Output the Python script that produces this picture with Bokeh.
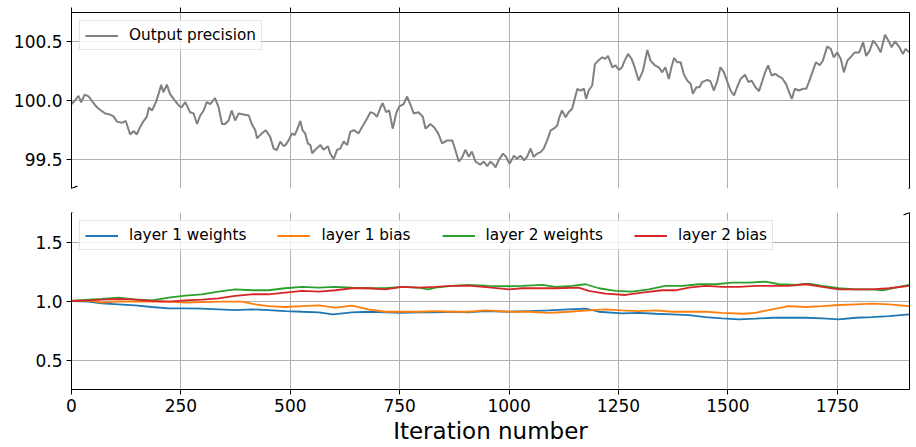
from bokeh.plotting import figure
from bokeh.models import (Range1d, FixedTicker, LinearAxis, Arrow, PrintfTickFormatter)
from bokeh.layouts import column
from bokeh.embed import file_html
from bokeh.resources import INLINE

# ---------------- data ----------------
prec_iter = [0, 8, 16, 22, 30, 39, 46, 54, 62, 69, 77, 88, 96, 104, 115, 124, 134, 142, 149, 157,
             164, 172, 177, 184, 193, 199, 205, 210, 218, 225, 235, 245, 251, 260, 271, 279, 287, 294,
             302, 309, 317, 328, 336, 344, 351, 359, 366, 374, 382, 393, 405, 412, 420, 424, 435, 444,
             454, 462, 469, 477, 485, 489, 496, 504, 510, 515, 523, 528, 534, 540, 546, 550, 557, 569,
             576, 586, 591, 599, 607, 614, 622, 630, 637, 645, 656, 664, 673, 683, 691, 698, 706, 711,
             719, 726, 734, 742, 749, 759, 767, 774, 782, 793, 803, 809, 820, 828, 838, 847, 858, 870,
             877, 885, 893, 900, 908, 915, 923, 934, 942, 950, 957, 965, 969, 976, 986, 993, 1001, 1011,
             1018, 1026, 1034, 1041, 1049, 1056, 1064, 1072, 1079, 1087, 1095, 1102, 1110, 1115, 1121,
             1129, 1136, 1144, 1150, 1156, 1163, 1171, 1176, 1182, 1190, 1196, 1204, 1213, 1220, 1226,
             1236, 1243, 1251, 1258, 1264, 1272, 1280, 1287, 1296, 1306, 1316, 1323, 1333, 1342, 1350,
             1357, 1365, 1371, 1377, 1384, 1392, 1399, 1407, 1415, 1420, 1428, 1435, 1441, 1453, 1460,
             1468, 1476, 1483, 1491, 1499, 1506, 1514, 1521, 1529, 1539, 1547, 1554, 1563, 1571, 1579,
             1585, 1592, 1600, 1608, 1617, 1624, 1633, 1640, 1646, 1653, 1662, 1672, 1679, 1685, 1693,
             1701, 1710, 1717, 1727, 1735, 1742, 1750, 1758, 1765, 1773, 1783, 1790, 1800, 1809, 1816,
             1824, 1832, 1841, 1849, 1859, 1867, 1874, 1882, 1891, 1900, 1906, 1914]
prec_vals = [99.97, 100.0, 100.04, 99.985, 100.05, 100.035, 100.0, 99.96, 99.93, 99.91, 99.89, 99.88,
             99.865, 99.82, 99.81, 99.825, 99.71, 99.74, 99.71, 99.775, 99.82, 99.86, 99.94, 99.915,
             99.986, 100.056, 100.135, 100.07, 100.135, 100.056, 100.006, 99.958, 99.94, 99.986, 99.90,
             99.89, 99.80, 99.87, 99.915, 99.986, 99.97, 100.02, 99.944, 99.80, 99.80, 99.83, 99.915,
             99.83, 99.89, 99.88, 99.873, 99.80, 99.747, 99.677, 99.72, 99.747, 99.69, 99.59, 99.578,
             99.649, 99.612, 99.62, 99.66, 99.72, 99.705, 99.747, 99.826, 99.747, 99.72, 99.635, 99.62,
             99.55, 99.58, 99.62, 99.58, 99.61, 99.55, 99.50, 99.58, 99.59, 99.65, 99.62, 99.733, 99.747,
             99.72, 99.775, 99.83, 99.90, 99.89, 99.86, 99.94, 99.977, 99.90, 99.915, 99.76, 99.89, 99.95,
             99.97, 100.034, 99.97, 99.89, 99.90, 99.86, 99.76, 99.80, 99.775, 99.72, 99.635, 99.66,
             99.66, 99.58, 99.48, 99.517, 99.58, 99.52, 99.565, 99.48, 99.452, 99.48, 99.44, 99.48,
             99.452, 99.43, 99.49, 99.547, 99.52, 99.46, 99.53, 99.504, 99.53, 99.49, 99.52, 99.59,
             99.52, 99.547, 99.56, 99.59, 99.66, 99.745, 99.76, 99.787, 99.858, 99.915, 99.858, 99.90,
             99.93, 100.014, 100.10, 100.085, 100.10, 100.014, 100.085, 100.128, 100.31, 100.34,
             100.368, 100.354, 100.38, 100.283, 100.30, 100.26, 100.283, 100.34, 100.397, 100.354,
             100.283, 100.17, 100.255, 100.43, 100.34, 100.30, 100.283, 100.24, 100.283, 100.184,
             100.283, 100.363, 100.326, 100.326, 100.227, 100.17, 100.14, 100.057, 100.113, 100.113,
             100.156, 100.176, 100.164, 100.085, 100.17, 100.283, 100.24, 100.156, 100.085, 100.043,
             100.113, 100.184, 100.22, 100.156, 100.17, 100.113, 100.08, 100.17, 100.24, 100.30, 100.213,
             100.227, 100.204, 100.19, 100.14, 100.07, 100.014, 100.10, 100.085, 100.10, 100.10, 100.156,
             100.24, 100.326, 100.30, 100.34, 100.46, 100.44, 100.368, 100.41, 100.354, 100.24, 100.34,
             100.38, 100.41, 100.41, 100.496, 100.38, 100.425, 100.51, 100.468, 100.41, 100.56, 100.51,
             100.453, 100.504, 100.46, 100.397, 100.44, 100.41]

l1w_iter = [0, 39, 69, 107, 145, 184, 222, 260, 298, 336, 374, 412, 450, 488, 527, 565, 597, 641, 679,
            717, 755, 793, 831, 869, 907, 946, 1000, 1045, 1091, 1136, 1175, 1205, 1258, 1296, 1335,
            1373, 1411, 1449, 1487, 1525, 1563, 1601, 1639, 1678, 1716, 1754, 1792, 1830, 1868, 1914]
l1w_vals = [1.0, 0.994, 0.98, 0.972, 0.963, 0.949, 0.938, 0.938, 0.935, 0.929, 0.923, 0.929, 0.923,
            0.915, 0.909, 0.904, 0.887, 0.904, 0.909, 0.904, 0.90, 0.904, 0.904, 0.909, 0.904, 0.915,
            0.909, 0.915, 0.921, 0.929, 0.935, 0.909, 0.895, 0.90, 0.892, 0.887, 0.881, 0.864, 0.853,
            0.844, 0.85, 0.858, 0.858, 0.858, 0.853, 0.844, 0.858, 0.864, 0.872, 0.887]

l1b_iter = [0, 39, 69, 107, 145, 184, 222, 260, 298, 336, 389, 420, 450, 488, 527, 565, 603, 641, 679,
            717, 755, 793, 831, 869, 907, 946, 1000, 1045, 1091, 1136, 1182, 1220, 1258, 1296, 1335,
            1373, 1411, 1449, 1487, 1533, 1563, 1601, 1639, 1678, 1716, 1754, 1792, 1830, 1868, 1914]
l1b_vals = [1.0, 1.006, 0.986, 0.994, 0.994, 0.994, 0.994, 0.986, 0.991, 0.994, 0.994, 0.972, 0.957,
            0.949, 0.957, 0.963, 0.943, 0.96, 0.929, 0.909, 0.909, 0.909, 0.915, 0.909, 0.909, 0.921,
            0.909, 0.909, 0.90, 0.909, 0.921, 0.929, 0.921, 0.915, 0.921, 0.909, 0.909, 0.909, 0.90,
            0.892, 0.90, 0.929, 0.957, 0.949, 0.957, 0.966, 0.972, 0.977, 0.972, 0.957]

l2w_iter = [0, 39, 69, 107, 145, 184, 222, 260, 298, 336, 374, 412, 450, 488, 527, 565, 603, 641, 679,
            717, 755, 793, 816, 831, 869, 907, 954, 1000, 1030, 1076, 1106, 1144, 1175, 1205, 1243,
            1281, 1319, 1357, 1396, 1434, 1472, 1510, 1548, 1586, 1617, 1655, 1685, 1716, 1754, 1792,
            1830, 1853, 1883, 1914]
l2w_vals = [1.0, 1.011, 1.017, 1.028, 1.014, 1.006, 1.028, 1.045, 1.057, 1.079, 1.099, 1.091, 1.091,
            1.108, 1.119, 1.113, 1.119, 1.113, 1.108, 1.108, 1.119, 1.113, 1.099, 1.113, 1.128, 1.136,
            1.128, 1.125, 1.128, 1.136, 1.119, 1.128, 1.142, 1.108, 1.085, 1.079, 1.099, 1.128, 1.128,
            1.142, 1.142, 1.156, 1.156, 1.164, 1.142, 1.136, 1.147, 1.128, 1.108, 1.099, 1.099, 1.091,
            1.113, 1.136]

l2b_iter = [0, 39, 69, 107, 145, 184, 222, 260, 298, 336, 374, 412, 450, 488, 527, 565, 603, 641, 679,
            717, 755, 793, 831, 869, 907, 954, 1000, 1030, 1076, 1106, 1159, 1182, 1220, 1266, 1304,
            1350, 1380, 1411, 1449, 1487, 1525, 1563, 1601, 1639, 1678, 1716, 1754, 1792, 1830, 1868, 1914]
l2b_vals = [1.0, 1.006, 1.011, 1.017, 1.011, 1.0, 0.994, 1.006, 1.011, 1.023, 1.043, 1.057, 1.057,
            1.071, 1.085, 1.079, 1.091, 1.108, 1.108, 1.099, 1.119, 1.113, 1.119, 1.128, 1.13, 1.115,
            1.099, 1.108, 1.108, 1.108, 1.113, 1.085, 1.062, 1.051, 1.071, 1.091, 1.091, 1.113, 1.128,
            1.119, 1.119, 1.128, 1.128, 1.128, 1.142, 1.119, 1.099, 1.099, 1.099, 1.108, 1.128]

x_ticks = [0, 250, 500, 750, 1000, 1250, 1500, 1750]
top_y_ticks = [99.5, 100.0, 100.5]
bot_y_ticks = [0.5, 1.0, 1.5]

X_MAX = 1915
TOP_RANGE = (99.25, 100.75)
BOT_RANGE = (0.25, 1.75)

FONT = "DejaVu Sans"
GRID = "#b0b0b0"
FW, FH = 838, 177
LEFT, RIGHT = 71, 7


def style_axis(ax, ticks=True, labels=True):
    ax.axis_line_color = "black"
    ax.axis_line_width = 1
    ax.minor_tick_line_color = None
    ax.major_tick_in = 0
    ax.major_tick_out = 5 if ticks else 0
    ax.major_tick_line_color = "black" if ticks else None
    ax.major_label_text_font = FONT
    ax.major_label_text_color = "black"
    ax.major_label_standoff = 4 if labels else 0
    ax.major_label_text_font_size = "17px"


def make_fig(yr, yt, top):
    p = figure(frame_width=FW, frame_height=FH - 1 if top else FH,
               x_range=Range1d(0, X_MAX), y_range=Range1d(*yr),
               output_backend="svg", toolbar_location=None,
               x_axis_location="above" if top else "below",
               min_border_left=LEFT, min_border_right=RIGHT,
               min_border_top=12, min_border_bottom=12 if top else 57)
    p.outline_line_color = None
    p.xaxis.ticker = FixedTicker(ticks=x_ticks)
    p.yaxis.ticker = FixedTicker(ticks=yt)
    p.yaxis.formatter = PrintfTickFormatter(format="%.1f")
    style_axis(p.yaxis[0])
    style_axis(p.xaxis[0], ticks=True, labels=not top)
    if top:
        # tick marks on the top spine, without labels
        p.xaxis[0].major_label_overrides = {t: "" for t in x_ticks}
    ra = LinearAxis(ticker=FixedTicker(ticks=[]))
    style_axis(ra, ticks=False, labels=False)
    p.add_layout(ra, "right")
    p.xgrid.grid_line_color = GRID
    p.ygrid.grid_line_color = GRID
    p.xgrid.grid_line_width = 1
    p.ygrid.grid_line_width = 1
    p.xgrid.ticker = FixedTicker(ticks=x_ticks)
    p.ygrid.ticker = FixedTicker(ticks=yt)
    return p


top = make_fig(TOP_RANGE, top_y_ticks, True)
bot = make_fig(BOT_RANGE, bot_y_ticks, False)

top.line(prec_iter, prec_vals, line_color="#808080", line_width=2, legend_label="Output precision")

bot.line(l1w_iter, l1w_vals, line_color="#1f77b4", line_width=1.8, legend_label="layer 1 weights")
bot.line(l1b_iter, l1b_vals, line_color="#ff7f0e", line_width=1.8, legend_label="layer 1 bias")
bot.line(l2w_iter, l2w_vals, line_color="#2ca02c", line_width=1.8, legend_label="layer 2 weights")
bot.line(l2b_iter, l2b_vals, line_color="#d62728", line_width=1.8, legend_label="layer 2 bias")

bot.xaxis.axis_label = "Iteration number"
bot.xaxis.axis_label_text_font = FONT
bot.xaxis.axis_label_text_font_size = "23px"
bot.xaxis.axis_label_text_font_style = "normal"
bot.xaxis.axis_label_text_color = "black"
bot.xaxis.axis_label_standoff = 3

for p, orient in ((top, "vertical"), (bot, "horizontal")):
    lg = p.legend[0]
    lg.location = "top_left"
    lg.orientation = orient
    lg.margin = 8
    lg.padding = 5
    lg.spacing = 31
    lg.glyph_width = 33
    lg.glyph_height = 17
    lg.label_height = 17
    lg.label_standoff = 11
    lg.label_text_font = FONT
    lg.label_text_font_size = "15.3px"
    lg.label_text_color = "black"
    lg.border_line_color = "#cccccc"
    lg.border_line_width = 1
    lg.background_fill_alpha = 0.8

# break marks (diagonal slashes at the broken-axis corners)
dx = 6 / (FW / X_MAX)
for p, yr, at_bottom in ((top, TOP_RANGE, True), (bot, BOT_RANGE, False)):
    dy = 2.5 / (FH / (yr[1] - yr[0]))
    yc = yr[0] if at_bottom else yr[1]
    for xc in (0, X_MAX):
        p.add_layout(Arrow(end=None, x_start=xc - dx, y_start=yc - dy, x_end=xc + dx, y_end=yc + dy,
                           line_color="black", line_width=1.2))

layout = column(top, bot, spacing=0)
open("out.html", "w").write(file_html(layout, INLINE))
